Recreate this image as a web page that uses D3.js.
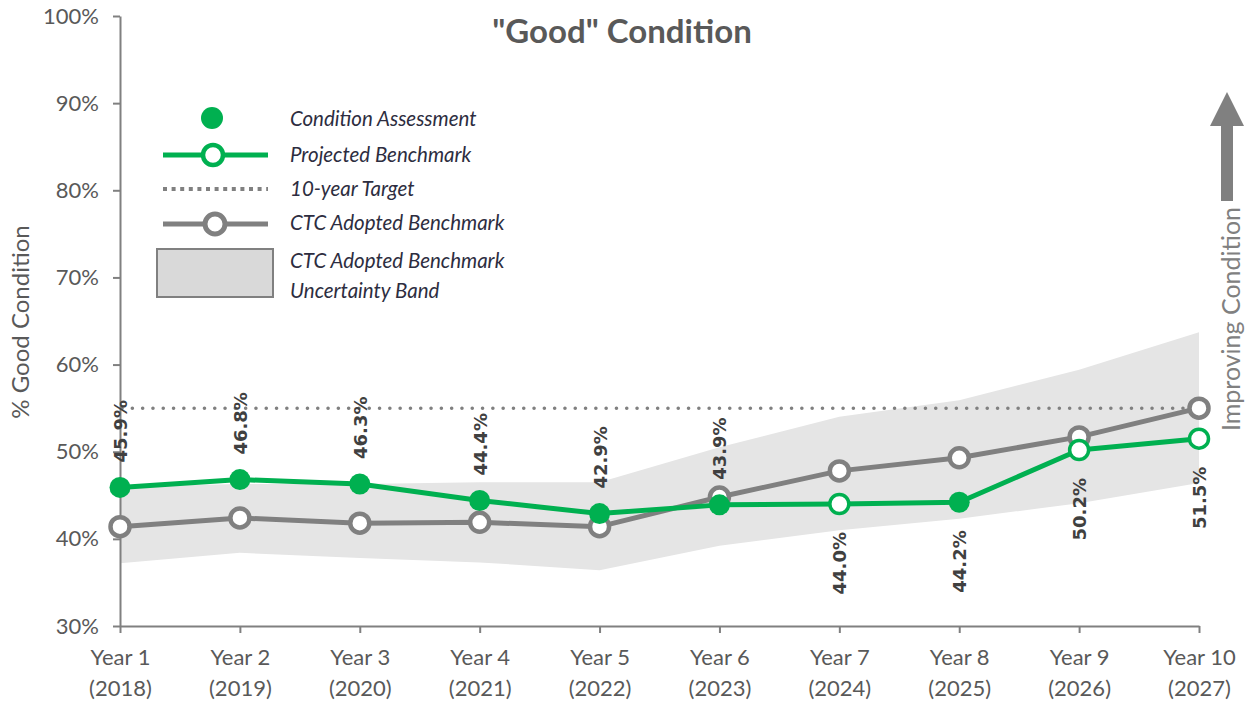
<!doctype html>
<html>
<head>
<meta charset="utf-8">
<title>Good Condition</title>
<style>
* {padding:0;margin:0}
body {background:#fff}
svg text {font-family: Lato, "Open Sans", sans-serif}
</style>
</head>
<body>
<div id="chart"></div>
<script src="https://d3js.org/d3.v7.min.js"></script>
<script>

const years = ["Year 1", "Year 2", "Year 3", "Year 4", "Year 5", "Year 6", "Year 7", "Year 8", "Year 9", "Year 10"];
const calYears = ["(2018)", "(2019)", "(2020)", "(2021)", "(2022)", "(2023)", "(2024)", "(2025)", "(2026)", "(2027)"];
// green series: assessment (filled) or projected (hollow)
const goodValues = [45.9, 46.8, 46.3, 44.4, 42.9, 43.9, 44.0, 44.2, 50.2, 51.5];
const goodType = ["a", "a", "a", "a", "a", "a", "p", "a", "p", "p"];
const labelSide = ["up", "up", "up", "up", "up", "up", "down", "down", "down", "down"];
const ctcBenchmark = [41.4, 42.4, 41.8, 41.9, 41.4, 44.8, 47.8, 49.3, 51.7, 55.0];
const bandUpper = [46.0, 46.3, 46.3, 46.5, 46.5, 50.5, 54.0, 55.9, 59.4, 63.7];
const bandLower = [37.2, 38.4, 37.8, 37.3, 36.4, 39.2, 41.0, 42.3, 44.1, 46.4];
const target = 55;
const yTicks = [30, 40, 50, 60, 70, 80, 90, 100];

const W = 1250, H = 705;
const green = "#00b050", gray = "#808080", txt = "#595959";

const svg = d3.select("#chart").append("svg")
	.attr("width", W)
	.attr("height", H);

const x = d3.scalePoint().domain(years).range([120, 1199]);
const y = d3.scaleLinear().domain([30, 100]).range([626, 16]);

// uncertainty band
const area = d3.area()
	.x(function(d, i) { return x(years[i]); })
	.y0(function(d, i) { return y(bandLower[i]); })
	.y1(function(d, i) { return y(bandUpper[i]); });
svg.append("path")
	.datum(bandUpper)
	.attr("d", area)
	.attr("fill", "#e5e5e5");

// axes
const yAxis = svg.append("g")
	.attr("transform", "translate(120,0)")
	.call(d3.axisLeft(y).tickValues(yTicks).tickSize(7).tickSizeOuter(0).tickFormat(function(d){ return d + "%"; }));
yAxis.selectAll("text").attr("font-size", 22).attr("fill", txt).attr("x", -21).style("font-family", "Lato");

const xAxis = svg.append("g")
	.attr("transform", "translate(0,626)")
	.call(d3.axisBottom(x).tickSize(7).tickSizeOuter(0));
xAxis.selectAll("text").remove();
xAxis.selectAll(".tick").append("text")
	.attr("fill", txt)
	.attr("font-size", 22)
	.attr("text-anchor", "middle")
	.style("font-family", "Lato")
	.each(function(d, i) {
		const t = d3.select(this);
		t.append("tspan").attr("x", 0).attr("y", 39).text(d);
		t.append("tspan").attr("x", 0).attr("y", 70).text(calYears[i]);
	});
svg.selectAll(".domain, .tick line").attr("stroke", gray).attr("stroke-width", 2);

// 10-year target
svg.append("line")
	.attr("x1", x(years[0]) + 2).attr("x2", x(years[9]) - 8)
	.attr("y1", y(target)).attr("y2", y(target))
	.attr("stroke", gray)
	.attr("stroke-width", 3.5)
	.attr("stroke-linecap", "round")
	.attr("stroke-dasharray", "0.1,10.2");

const line = d3.line().x(function(d, i) { return x(years[i]); }).y(function(d) { return y(d); });

// CTC adopted benchmark
svg.append("path").datum(ctcBenchmark).attr("d", line)
	.attr("fill", "none").attr("stroke", gray).attr("stroke-width", 5).attr("stroke-linejoin", "round");
svg.selectAll("circle.ctc").data(ctcBenchmark).enter()
	.append("circle").attr("class", "ctc")
	.attr("cx", function(d, i) { return x(years[i]); })
	.attr("cy", function(d) { return y(d); })
	.attr("r", 9.5)
	.attr("fill", "#fff").attr("stroke", gray).attr("stroke-width", 4.5);

// good condition
svg.append("path").datum(goodValues).attr("d", line)
	.attr("fill", "none").attr("stroke", green).attr("stroke-width", 5).attr("stroke-linejoin", "round");
svg.selectAll("circle.good").data(goodValues).enter()
	.append("circle").attr("class", "good")
	.attr("cx", function(d, i) { return x(years[i]); })
	.attr("cy", function(d) { return y(d); })
	.attr("r", function(d, i) { return goodType[i] == "a" ? 10.5 : 9.5; })
	.attr("fill", function(d, i) { return goodType[i] == "a" ? green : "#fff"; })
	.attr("stroke", green).attr("stroke-width", function(d, i) { return goodType[i] == "a" ? 0 : 3.5; });

// data labels
svg.selectAll("text.lbl").data(goodValues).enter()
	.append("text").attr("class", "lbl")
	.attr("transform", function(d, i) {
		const off = labelSide[i] == "up" ? -25 : 28;
		return "translate(" + (x(years[i]) + 7) + "," + (y(d) + off) + ") rotate(-90)";
	})
	.attr("text-anchor", function(d, i) { return labelSide[i] == "up" ? "start" : "end"; })
	.attr("font-size", 18)
	.attr("font-weight", "bold")
	.attr("fill", "#404040")
	.style("font-family", "DejaVu Sans")
	.text(function(d) { return d.toFixed(1) + "%"; });

// title & axis title
svg.append("text").attr("x", 622).attr("y", 43).attr("text-anchor", "middle")
	.attr("font-size", 33).attr("font-weight", "bold").attr("fill", txt)
	.text('"Good" Condition');
svg.append("text").attr("transform", "translate(29,322) rotate(-90)").attr("text-anchor", "middle")
	.attr("font-size", 24).attr("fill", txt).text("% Good Condition");

// improving arrow
svg.append("path")
	.attr("d", "M1221,201 L1221,126 L1210,126 L1227,92 L1244,126 L1233,126 L1233,201 Z")
	.attr("fill", gray);
svg.append("text").attr("transform", "translate(1240,319) rotate(-90)").attr("text-anchor", "middle")
	.attr("font-size", 25).attr("fill", gray).text("Improving Condition");

// legend
const lg = svg.append("g");
const lgTxt = "#2d2d40";
lg.append("circle").attr("cx", 212).attr("cy", 118).attr("r", 11).attr("fill", green);
lg.append("line").attr("x1", 163).attr("x2", 268).attr("y1", 155).attr("y2", 155).attr("stroke", green).attr("stroke-width", 5);
lg.append("circle").attr("cx", 213).attr("cy", 155).attr("r", 10).attr("fill", "#fff").attr("stroke", green).attr("stroke-width", 4.5);
lg.append("line").attr("x1", 163).attr("x2", 268).attr("y1", 189).attr("y2", 189).attr("stroke", gray).attr("stroke-width", 4).attr("stroke-dasharray", "4,4.6");
lg.append("line").attr("x1", 163).attr("x2", 268).attr("y1", 224).attr("y2", 224).attr("stroke", gray).attr("stroke-width", 5);
lg.append("circle").attr("cx", 215).attr("cy", 224).attr("r", 10).attr("fill", "#fff").attr("stroke", gray).attr("stroke-width", 5);
lg.append("rect").attr("x", 157).attr("y", 249).attr("width", 116).attr("height", 48)
	.attr("fill", "#d9d9d9").attr("stroke", gray).attr("stroke-width", 2);
const lgItems = [["Condition Assessment", 126], ["Projected Benchmark", 162], ["10-year Target", 196], ["CTC Adopted Benchmark", 230], ["CTC Adopted Benchmark", 268], ["Uncertainty Band", 298]];
lg.selectAll("text").data(lgItems).enter().append("text")
	.attr("x", 290).attr("y", function(d) { return d[1]; })
	.attr("font-size", 20.5).attr("font-style", "italic").attr("fill", lgTxt)
	.text(function(d) { return d[0]; });

</script>
</body>
</html>
